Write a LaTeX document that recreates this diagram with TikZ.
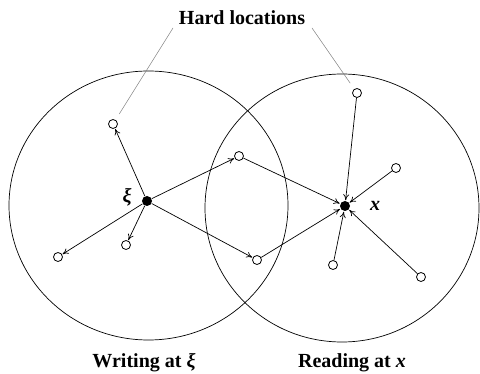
\documentclass[tikz,border=0pt]{standalone}
\usepackage{fontspec}
\setmainfont{Liberation Serif}
\usetikzlibrary{arrows.meta}

\begin{document}
\begin{tikzpicture}[
    x=1pt, y=-1pt,
    line width=0.7pt,
    >={To[length=6pt, width=6pt]},
    loc/.style={circle, draw, line width=0.8pt, fill=white, inner sep=0pt, minimum size=9pt},
    addr/.style={circle, fill=black, inner sep=0pt, minimum size=10pt},
    link/.style={->, shorten >=0.5pt},
    leader/.style={gray, line width=0.5pt},
    lbl/.style={font=\fontsize{20}{24}\selectfont\bfseries},
]
\useasboundingbox (0,0) rectangle (480,374);

% =============================================================================
% Access circles
% =============================================================================
\draw (148.5,205.5) ellipse [x radius=139.5pt, y radius=134.5pt];
\draw (342,208) ellipse [x radius=137pt, y radius=134pt];

% --- Addresses ---
\node[addr] (xi) at (147,201) {};
\node[addr] (x)  at (345,206) {};

% --- Hard locations ---
\node[loc] (w1) at (113,124) {};
\node[loc] (w2) at (58,257) {};
\node[loc] (w3) at (126,245) {};
\node[loc] (s1) at (239,156) {};
\node[loc] (s2) at (257,260) {};
\node[loc] (r1) at (357,93) {};
\node[loc] (r2) at (396,168) {};
\node[loc] (r3) at (333,265) {};
\node[loc] (r4) at (421,277) {};

% --- Writing: from xi out to the locations ---
\foreach \n in {w1,w2,w3,s1,s2} {
    \draw[link] (xi) -- (\n);
}

% --- Reading: from the locations in to x ---
\foreach \n in {s1,s2,r1,r2,r3,r4} {
    \draw[link] (\n) -- (x);
}

% --- Labels ---
\node[lbl] (xilbl) at (127,197) {\textit{ξ}};
\node[lbl] (xlbl)  at (375,206) {\textit{x}};
\node[lbl] (hard)  at (242,18) {Hard locations};
\node[lbl] (write) at (144,363) {Writing at \textit{ξ}};
\node[lbl] (read)  at (352,363) {Reading at \textit{x}};

% --- Leader lines ---
\coordinate (hl) at (173,28);
\coordinate (hr) at (312,28);
\draw[leader, shorten >=7pt] (hl) -- (w1);
\draw[leader, shorten >=7pt] (hr) -- (r1);

\end{tikzpicture}
\end{document}
